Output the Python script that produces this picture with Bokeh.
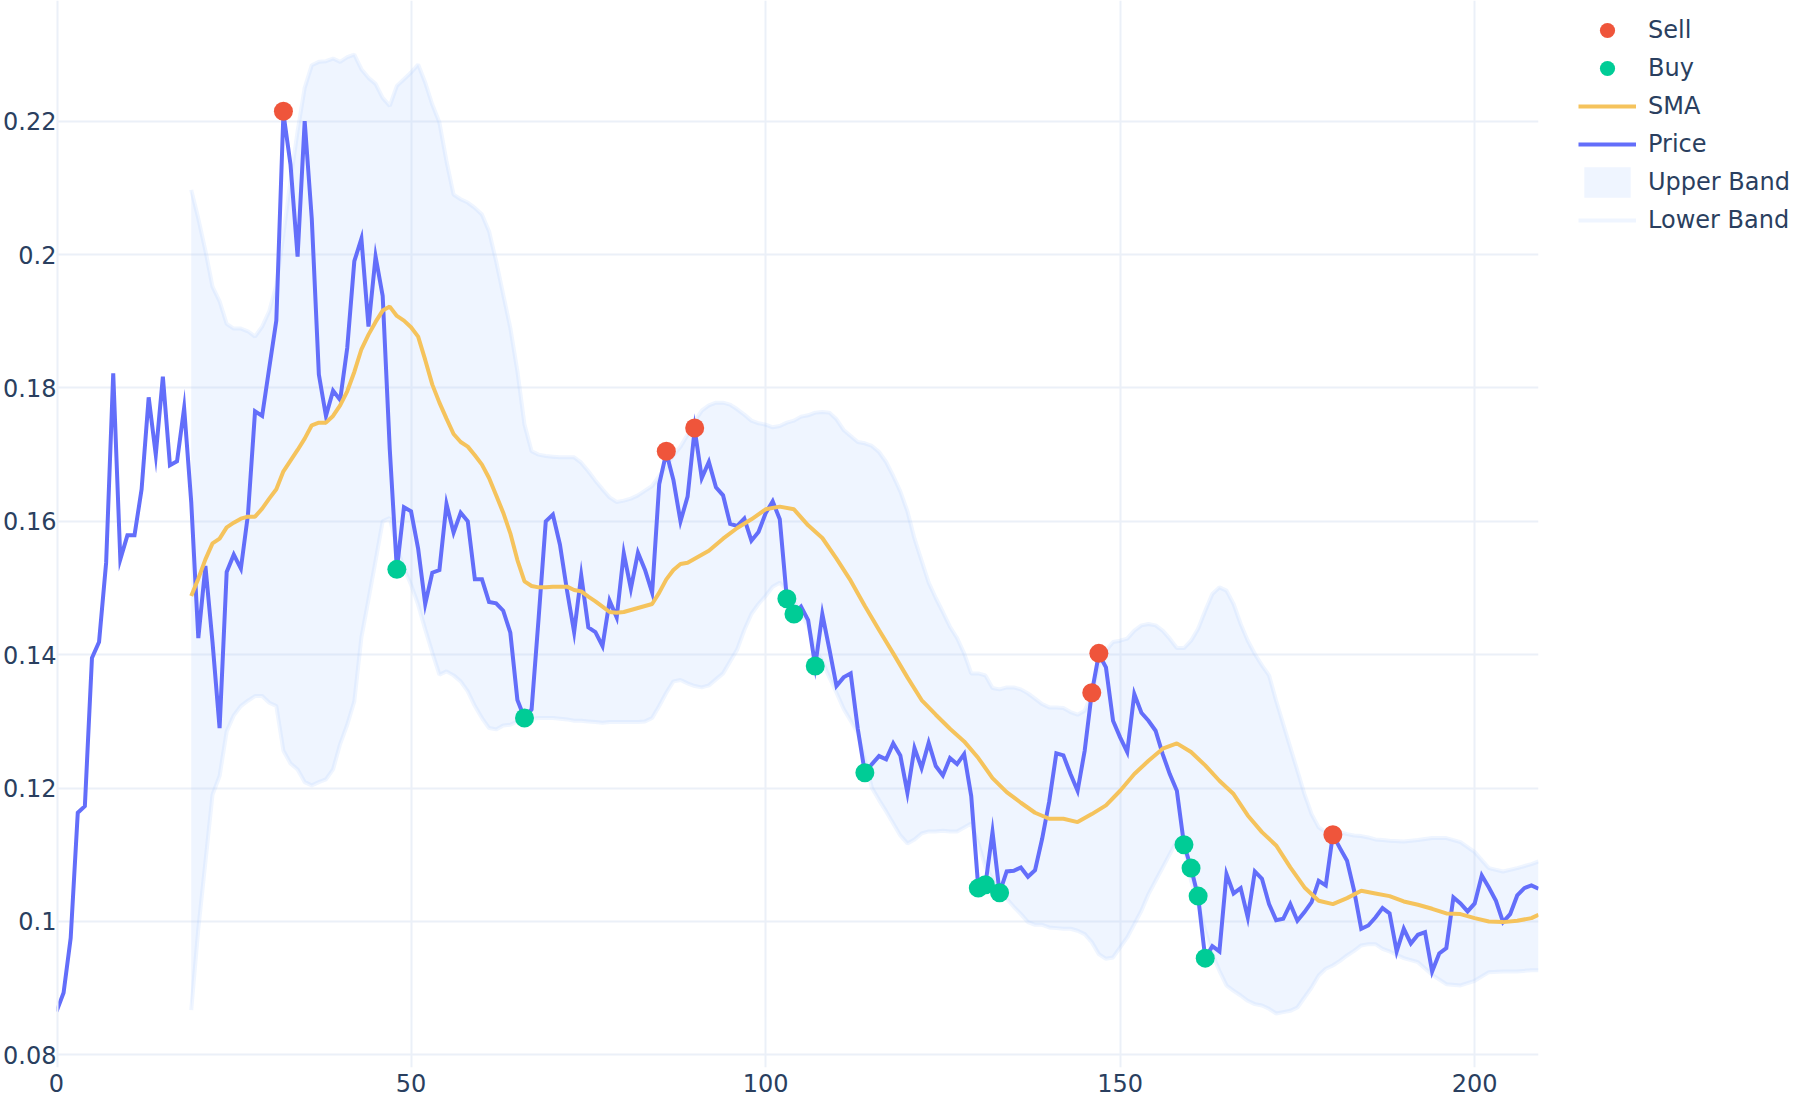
from bokeh.plotting import figure
from bokeh.layouts import row
from bokeh.models import (Legend, LegendItem, FixedTicker, Range1d, ColumnDataSource,
                          CustomJSTickFormatter, Span)
from bokeh.embed import file_html
from bokeh.resources import INLINE

# ---------------- data ----------------
price = [
    0.0865, 0.0893, 0.0975, 0.1163, 0.1173, 0.1395, 0.1419, 0.1538, 0.1822, 0.1543,
    0.1579, 0.1579, 0.1648, 0.1786, 0.1700, 0.1817, 0.1684, 0.1690, 0.1770, 0.1629,
    0.1425, 0.1533, 0.1419, 0.1290, 0.1524, 0.1550, 0.1529, 0.1610, 0.1765, 0.1758,
    0.1830, 0.1901, 0.2212, 0.2135, 0.1997, 0.2200, 0.2054, 0.1820, 0.1758, 0.1796,
    0.1782, 0.1860, 0.1990, 0.2024, 0.1892, 0.1997, 0.1938, 0.1708, 0.1528, 0.1621,
    0.1615, 0.1559, 0.1476, 0.1523, 0.1527, 0.1626, 0.1583, 0.1613, 0.1600, 0.1513,
    0.1513, 0.1479, 0.1477, 0.1466, 0.1433, 0.1332, 0.1305, 0.1318, 0.1456, 0.1600,
    0.1610, 0.1565, 0.1496, 0.1434, 0.1519, 0.1441, 0.1434, 0.1413, 0.1481, 0.1456,
    0.1552, 0.1499, 0.1553, 0.1527, 0.1493, 0.1656, 0.1703, 0.1662, 0.1600, 0.1637,
    0.1738, 0.1665, 0.1689, 0.1651, 0.1639, 0.1596, 0.1593, 0.1604, 0.1571, 0.1584,
    0.1612, 0.1630, 0.1603, 0.1484, 0.1461, 0.1472, 0.1452, 0.1383, 0.1461, 0.1408,
    0.1353, 0.1366, 0.1372, 0.1289, 0.1223, 0.1236, 0.1248, 0.1243, 0.1267, 0.1249,
    0.1193, 0.1260, 0.1230, 0.1268, 0.1233, 0.1219, 0.1245, 0.1236, 0.1251, 0.1188,
    0.1050, 0.1055, 0.1134, 0.1043, 0.1075, 0.1076, 0.1081, 0.1067, 0.1077, 0.1124,
    0.1180, 0.1252, 0.1249, 0.1221, 0.1196, 0.1256, 0.1343, 0.1401, 0.1381, 0.1301,
    0.1276, 0.1254, 0.1341, 0.1313, 0.1301, 0.1286, 0.1251, 0.1221, 0.1196, 0.1116,
    0.1080, 0.1037, 0.0945, 0.0963, 0.0955, 0.1071, 0.1042, 0.1050, 0.1006, 0.1075,
    0.1064, 0.1026, 0.1002, 0.1004, 0.1026, 0.1001, 0.1014, 0.1029, 0.1061, 0.1054,
    0.1130, 0.1110, 0.1091, 0.1046, 0.0989, 0.0994, 0.1006, 0.1020, 0.1012, 0.0955,
    0.0989, 0.0967, 0.0980, 0.0984, 0.0925, 0.0952, 0.0960, 0.1036, 0.1027, 0.1015,
    0.1027, 0.1069, 0.1051, 0.1031, 0.0999, 0.1011, 0.1039, 0.1050, 0.1054, 0.1049,
]
price_x = list(range(len(price)))

sma_x = list(range(19, 91)) + list(range(92, 209, 2)) + [209]
sma = [
    0.1488, 0.1514, 0.1543, 0.1567, 0.1574, 0.1591, 0.1598, 0.1604, 0.1607, 0.1607,
    0.1619, 0.1634, 0.1648, 0.1675, 0.1691, 0.1707, 0.1724, 0.1744, 0.1748, 0.1748,
    0.1758, 0.1774, 0.1795, 0.1824, 0.1858, 0.1880, 0.1899, 0.1916, 0.1922, 0.1908,
    0.1901, 0.1891, 0.1877, 0.1842, 0.1805, 0.1778, 0.1754, 0.1731, 0.1719, 0.1712,
    0.1699, 0.1685, 0.1665, 0.1639, 0.1613, 0.1582, 0.1542, 0.1510, 0.1503, 0.1501,
    0.1501, 0.1502, 0.1502, 0.1502, 0.1497, 0.1495, 0.1487, 0.1480, 0.1472, 0.1464,
    0.1463, 0.1464, 0.1467, 0.1470, 0.1473, 0.1476, 0.1493, 0.1513, 0.1527, 0.1536,
    0.1538, 0.1544,
    # even indices 92..208, then 209
    0.1556, 0.1574, 0.1590, 0.1603, 0.1618, 0.1622, 0.1618, 0.1594, 0.1575, 0.1544,
    0.1511, 0.1473, 0.1437, 0.1402, 0.1366, 0.1332, 0.1310, 0.1289, 0.1270, 0.1245,
    0.1215, 0.1194, 0.1178, 0.1163, 0.1154, 0.1154, 0.1149, 0.1161, 0.1174, 0.1196,
    0.1221, 0.1241, 0.1259, 0.1267, 0.1254, 0.1234, 0.1211, 0.1191, 0.1159, 0.1134,
    0.1114, 0.1081, 0.1051, 0.1031, 0.1026, 0.1035, 0.1046, 0.1042, 0.1038, 0.1030,
    0.1025, 0.1019, 0.1012, 0.1011, 0.1005, 0.1000, 0.0999, 0.1001, 0.1005,
    0.1010,
]

band_x = list(range(19, 189)) + list(range(190, 209, 2)) + [209]
upper_band = [
    0.2097, 0.2054, 0.2006, 0.1952, 0.1930, 0.1896, 0.1889, 0.1889, 0.1885, 0.1877,
    0.1892, 0.1915, 0.1954, 0.2030, 0.2111, 0.2185, 0.2250, 0.2284, 0.2289, 0.2290,
    0.2294, 0.2289, 0.2296, 0.2300, 0.2278, 0.2265, 0.2256, 0.2235, 0.2223, 0.2253,
    0.2263, 0.2273, 0.2285, 0.2258, 0.2225, 0.2198, 0.2140, 0.2090, 0.2083, 0.2078,
    0.2070, 0.2060, 0.2035, 0.1990, 0.1940, 0.1890, 0.1825, 0.1745, 0.1705, 0.1700,
    0.1698, 0.1697, 0.1696, 0.1696, 0.1696, 0.1688, 0.1675, 0.1661, 0.1648, 0.1636,
    0.1629, 0.1631, 0.1634, 0.1639, 0.1646, 0.1653, 0.1668, 0.1682, 0.1699, 0.1712,
    0.1730, 0.1750, 0.1766, 0.1774, 0.1778, 0.1778, 0.1775, 0.1768, 0.1760, 0.1751,
    0.1747, 0.1745, 0.1741, 0.1743, 0.1748, 0.1751, 0.1757, 0.1759, 0.1763, 0.1764,
    0.1763, 0.1753, 0.1737, 0.1728, 0.1719, 0.1717, 0.1713, 0.1704, 0.1689, 0.1668,
    0.1645, 0.1615, 0.1574, 0.1541, 0.1508, 0.1485, 0.1464, 0.1442, 0.1425, 0.1402,
    0.1372, 0.1372, 0.1369, 0.1350, 0.1348, 0.1351, 0.1351, 0.1348, 0.1342, 0.1334,
    0.1326, 0.1321, 0.1321, 0.1320, 0.1314, 0.1310, 0.1316, 0.1341, 0.1386, 0.1406,
    0.1419, 0.1421, 0.1424, 0.1436, 0.1444, 0.1446, 0.1444, 0.1436, 0.1424, 0.1410,
    0.1410, 0.1421, 0.1439, 0.1466, 0.1491, 0.1501, 0.1496, 0.1476, 0.1446, 0.1421,
    0.1401, 0.1384, 0.1369, 0.1331, 0.1296, 0.1261, 0.1226, 0.1191, 0.1161, 0.1141,
    0.1134, 0.1133, 0.1134, 0.1131, 0.1129, 0.1128, 0.1126, 0.1123, 0.1122, 0.1121,
    # 190..208 even, 209
    0.1120, 0.1122, 0.1125, 0.1125, 0.1119, 0.1104, 0.1080, 0.1075, 0.1080, 0.1086,
    0.1090,
]
lower_band = [
    0.0867, 0.0989, 0.1089, 0.1190, 0.1218, 0.1285, 0.1309, 0.1323, 0.1331, 0.1338,
    0.1338, 0.1328, 0.1323, 0.1256, 0.1237, 0.1228, 0.1209, 0.1204, 0.1209, 0.1213,
    0.1228, 0.1266, 0.1295, 0.1330, 0.1426, 0.1483, 0.1541, 0.1600, 0.1605, 0.1560,
    0.1530, 0.1505, 0.1475, 0.1438, 0.1403, 0.1370, 0.1375, 0.1369, 0.1360, 0.1345,
    0.1323, 0.1305, 0.1290, 0.1288, 0.1294, 0.1295, 0.1300, 0.1303, 0.1304, 0.1305,
    0.1305, 0.1305, 0.1304, 0.1303, 0.1301, 0.1301, 0.1300, 0.1299, 0.1298, 0.1299,
    0.1299, 0.1299, 0.1299, 0.1299, 0.1300, 0.1305, 0.1323, 0.1343, 0.1360, 0.1362,
    0.1357, 0.1353, 0.1351, 0.1354, 0.1363, 0.1372, 0.1390, 0.1408, 0.1437, 0.1461,
    0.1476, 0.1488, 0.1502, 0.1508, 0.1497, 0.1479, 0.1461, 0.1443, 0.1408, 0.1390,
    0.1366, 0.1343, 0.1319, 0.1301, 0.1283, 0.1242, 0.1200, 0.1182, 0.1165, 0.1147,
    0.1129, 0.1117, 0.1123, 0.1132, 0.1135, 0.1135, 0.1136, 0.1135, 0.1135, 0.1141,
    0.1147, 0.1117, 0.1082, 0.1064, 0.1046, 0.1034, 0.1022, 0.1011, 0.0999, 0.0995,
    0.0995, 0.0991, 0.0990, 0.0989, 0.0989, 0.0986, 0.0981, 0.0969, 0.0951, 0.0944,
    0.0946, 0.0961, 0.0976, 0.0996, 0.1016, 0.1041, 0.1061, 0.1081, 0.1101, 0.1121,
    0.1116, 0.1061, 0.1026, 0.0986, 0.0951, 0.0926, 0.0904, 0.0896, 0.0889, 0.0881,
    0.0876, 0.0874, 0.0869, 0.0862, 0.0864, 0.0866, 0.0871, 0.0886, 0.0901, 0.0919,
    0.0929, 0.0934, 0.0941, 0.0949, 0.0956, 0.0964, 0.0966, 0.0966, 0.0959, 0.0955,
    # 190..208 even, 209
    0.0945, 0.0939, 0.0920, 0.0906, 0.0904, 0.0911, 0.0924, 0.0925, 0.0925, 0.0927,
    0.0927,
]

sell_x = [32, 86, 90, 146, 147, 180]
sell_y = [0.2215, 0.1705, 0.1740, 0.1343, 0.1402, 0.1130]
buy_x = [48, 66, 103, 104, 107, 114, 130, 131, 133, 159, 160, 161, 162]
buy_y = [0.1528, 0.1305, 0.1484, 0.1461, 0.1383, 0.1223, 0.1050, 0.1055, 0.1043,
         0.1115, 0.1080, 0.1038, 0.0945]

x_ticks = [0, 50, 100, 150, 200]
x_tick_labels = ["0", "50", "100", "150", "200"]
y_ticks = [0.08, 0.10, 0.12, 0.14, 0.16, 0.18, 0.20, 0.22]
y_tick_labels = ["0.08", "0.1", "0.12", "0.14", "0.16", "0.18", "0.2", "0.22"]
legend_labels = ["Sell", "Buy", "SMA", "Price", "Upper Band", "Lower Band"]

# ---------------- styling ----------------
FONT = "DejaVu Sans"
TEXT = "#2a3f5f"
GRID = "#EBF0F8"
PRICE_C = "#636EFA"
SMA_C = "#F5C35C"
SELL_C = "#EF553B"
BUY_C = "#00CC96"
BAND_C = "#ADCCFF"

band_src = ColumnDataSource(dict(x=band_x, lo=lower_band, hi=upper_band))


def draw_series(fig):
    """Draw all series on a figure; returns renderers in legend order."""
    r_lower = fig.line("x", "lo", source=band_src, line_color=BAND_C, line_alpha=0.2, line_width=4)
    r_area = fig.varea(x="x", y1="lo", y2="hi", source=band_src, fill_color=BAND_C, fill_alpha=0.2)
    fig.line("x", "hi", source=band_src, line_color=BAND_C, line_alpha=0.2, line_width=4)
    r_price = fig.line(price_x, price, line_color=PRICE_C, line_width=4, line_join="miter")
    r_sma = fig.line(sma_x, sma, line_color=SMA_C, line_width=4)
    r_buy = fig.scatter(buy_x, buy_y, size=19, fill_color=BUY_C, line_color=None)
    r_sell = fig.scatter(sell_x, sell_y, size=19, fill_color=SELL_C, line_color=None)
    return [r_sell, r_buy, r_sma, r_price, r_area, r_lower]


# ---------------- main plot ----------------
p = figure(width=1540, height=1100,
           x_range=Range1d(0, 209), y_range=Range1d(0.0781, 0.2381),
           output_backend="svg", toolbar_location=None,
           min_border_left=56, min_border_right=2, min_border_top=0, min_border_bottom=33)
p.outline_line_color = None
p.background_fill_color = "white"
p.border_fill_color = "white"

for ax, ticks, labels in ((p.xaxis[0], x_ticks, x_tick_labels), (p.yaxis[0], y_ticks, y_tick_labels)):
    ax.ticker = FixedTicker(ticks=ticks)
    ax.formatter = CustomJSTickFormatter(
        args=dict(tv=ticks, tl=labels),
        code="const i = tv.findIndex(t => Math.abs(t - tick) < 1e-9); return i >= 0 ? tl[i] : '';")
    ax.axis_line_color = None
    ax.major_tick_line_color = None
    ax.minor_tick_line_color = None
    ax.major_tick_out = 0
    ax.major_tick_in = 0
    ax.minor_tick_out = 0
    ax.minor_tick_in = 0
    ax.major_label_text_font = FONT
    ax.major_label_text_font_size = "24px"
    ax.major_label_text_color = TEXT
p.xaxis.major_label_standoff = 6
p.yaxis.major_label_standoff = 0

p.xgrid.ticker = FixedTicker(ticks=x_ticks)
p.ygrid.ticker = FixedTicker(ticks=y_ticks)
p.grid.grid_line_color = GRID
p.grid.grid_line_width = 2

zero_line = Span(location=0, dimension="height", line_color=GRID, line_width=4)
p.add_layout(zero_line)

draw_series(p)

# ---------------- legend panel: same series, viewed outside their range ----------------
lg = figure(width=260, height=1100, x_range=Range1d(-20, -10), y_range=Range1d(0, 1),
            output_backend="svg", toolbar_location=None,
            x_axis_location=None, y_axis_location=None, min_border=0)
lg.outline_line_color = None
lg.grid.visible = False
lg.background_fill_color = "white"
lg.border_fill_color = "white"
legend_renderers = draw_series(lg)

legend = Legend(items=[LegendItem(label=l, renderers=[r])
                       for l, r in zip(legend_labels, legend_renderers)],
                location=(38, 828))
legend.label_text_font = FONT
legend.label_text_font_size = "24px"
legend.label_text_color = TEXT
legend.glyph_width = 58
legend.glyph_height = 38
legend.label_height = 38
legend.label_standoff = 12
legend.spacing = 0
legend.padding = 10
legend.margin = 0
legend.border_line_color = None
legend.background_fill_alpha = 0
lg.add_layout(legend)

layout = row(p, lg)
html = file_html(layout, INLINE)
html = html.replace("<head>", "<head><style>html,body{margin:0;padding:0;overflow:hidden}</style>", 1)
open("out.html", "w").write(html)
